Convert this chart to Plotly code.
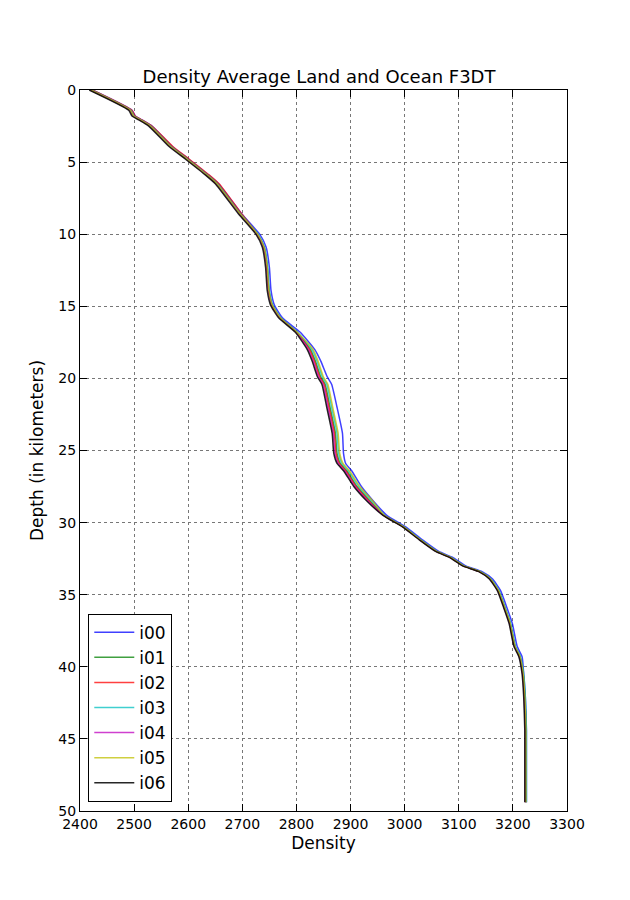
import plotly.graph_objects as go

# depth in km (shared by all runs)
depth = [0, 1.4, 1.8, 2.0, 2.5, 3.9, 4.8, 5.9, 6.5, 8.6, 10.0, 10.9, 12.3, 13.9, 14.9,
         15.8, 16.8, 18.0, 18.8, 19.9, 20.4, 22.0, 23.8, 25.2, 25.9, 26.4, 27.5, 28.5,
         29.5, 30.3, 31.2, 32.0, 32.4, 33.0, 33.4, 33.9, 34.7, 35.9, 37.0, 38.6, 39.3,
         40.5, 42.1, 44.4, 49.4]

i00 = [2423, 2496, 2502, 2511, 2533, 2570, 2601, 2638, 2656, 2699, 2732, 2744, 2750, 2753, 2759,
       2774, 2807, 2834, 2845, 2857, 2865, 2875, 2885, 2887, 2891, 2902, 2920, 2942,
       2967, 3002, 3033, 3063, 3088, 3113, 3143, 3162, 3177, 3189, 3199, 3208, 3217,
       3220, 3223, 3225, 3225]
i01 = [2420, 2493, 2499, 2508, 2530, 2567, 2598, 2635, 2653, 2696, 2728, 2740, 2746, 2749, 2755,
       2770, 2801, 2826, 2835, 2845, 2853, 2862, 2872, 2875, 2881, 2893, 2912, 2936,
       2962, 2998, 3029, 3059, 3084, 3109, 3139, 3158, 3173, 3185, 3195, 3204, 3213,
       3219, 3222, 3224, 3224]
i02 = [2423, 2496, 2502, 2511, 2533, 2571, 2602, 2639, 2657, 2699, 2728, 2740, 2746, 2749, 2755,
       2770, 2801, 2824, 2833, 2843, 2851, 2860, 2870, 2873, 2879, 2891, 2910, 2934,
       2962, 2998, 3029, 3059, 3084, 3109, 3139, 3158, 3173, 3185, 3195, 3204, 3213,
       3219, 3222, 3224, 3224]
i03 = [2421, 2494, 2500, 2509, 2531, 2568, 2599, 2636, 2654, 2697, 2729, 2741, 2747, 2750, 2756,
       2771, 2802, 2829, 2838, 2848, 2856, 2865, 2875, 2878, 2884, 2896, 2915, 2939,
       2963, 2999, 3030, 3060, 3085, 3110, 3140, 3159, 3174, 3186, 3196, 3205, 3214,
       3220, 3223, 3225, 3225]
i04 = [2419, 2492, 2498, 2507, 2529, 2566, 2597, 2634, 2652, 2695, 2727, 2739, 2745, 2748, 2754,
       2769, 2800, 2822, 2831, 2841, 2849, 2858, 2868, 2871, 2877, 2889, 2908, 2932,
       2961, 2997, 3028, 3058, 3083, 3108, 3138, 3157, 3172, 3184, 3194, 3203, 3212,
       3218, 3221, 3223, 3223]
i05 = [2420, 2493, 2499, 2508, 2530, 2567, 2598, 2635, 2653, 2696, 2728, 2740, 2746, 2749, 2755,
       2770, 2801, 2831, 2840, 2850, 2858, 2867, 2877, 2880, 2886, 2898, 2917, 2941,
       2962, 2998, 3029, 3059, 3084, 3109, 3139, 3158, 3173, 3185, 3195, 3204, 3213,
       3219, 3222, 3224, 3224]
i06 = [2417, 2490, 2496, 2505, 2527, 2564, 2595, 2632, 2650, 2693, 2725, 2737, 2743, 2746, 2752,
       2767, 2798, 2820, 2829, 2839, 2847, 2856, 2866, 2869, 2875, 2887, 2906, 2930,
       2960, 2996, 3027, 3057, 3082, 3107, 3137, 3156, 3171, 3183, 3193, 3202, 3211,
       3217, 3220, 3222, 3222]

names = ["i00", "i01", "i02", "i03", "i04", "i05", "i06"]
runs = [i00, i01, i02, i03, i04, i05, i06]
colors = ["rgba(0,0,255,0.75)", "rgba(0,128,0,0.75)", "rgba(255,0,0,0.75)",
          "rgba(0,191,191,0.75)", "rgba(191,0,191,0.75)", "rgba(191,191,0,0.75)",
          "rgba(0,0,0,0.85)"]

fig = go.Figure()
for name, dens, col in zip(names, runs, colors):
    fig.add_trace(go.Scatter(x=dens, y=depth, name=name, mode="lines",
                             line=dict(color=col, width=1.5, shape="spline", smoothing=0.5)))

axis_style = dict(showline=True, linecolor="black", linewidth=1, mirror="allticks",
                  ticks="inside", ticklen=7, tickcolor="black",
                  showgrid=True, gridcolor="#777", griddash="dot", gridwidth=1,
                  zeroline=False, tickfont=dict(size=14, color="black"))

# page body adds 8px offset, so the figure is a bit smaller than the window
fig.update_layout(
    width=622, height=892,
    paper_bgcolor="white", plot_bgcolor="white",
    font=dict(family="DejaVu Sans", color="black"),
    margin=dict(l=72, r=63, t=82, b=89),
    title=dict(text="Density Average Land and Ocean F3DT", x=0.5, xanchor="center",
               y=0.923, yanchor="middle", font=dict(size=18)),
    xaxis=dict(range=[2400, 3300], dtick=100,
               title=dict(text="Density", font=dict(size=17), standoff=6), **axis_style),
    yaxis=dict(range=[50, 0], dtick=5,
               title=dict(text="Depth (in kilometers)", font=dict(size=17), standoff=10),
               **axis_style),
    legend=dict(x=0.017, y=0.013, xanchor="left", yanchor="bottom",
                bordercolor="black", borderwidth=1, bgcolor="white",
                itemwidth=40, font=dict(size=17)),
)

fig.write_html("out.html")
